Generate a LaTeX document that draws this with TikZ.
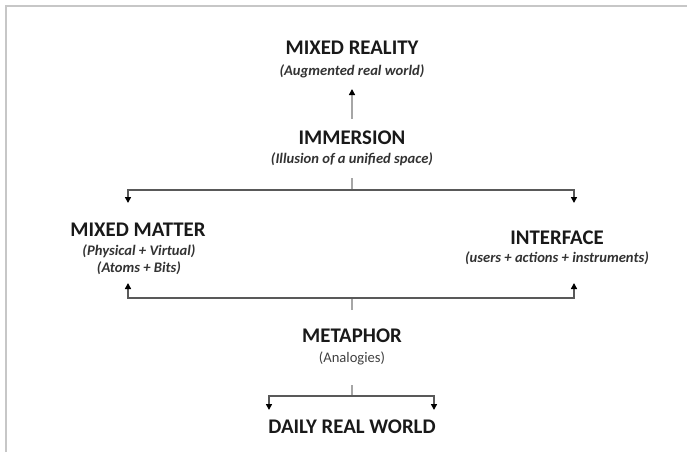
\documentclass[tikz,border=0pt]{standalone}
\usepackage{fontspec}
\setmainfont{Carlito}
\usetikzlibrary{arrows.meta}
\begin{document}
\begin{tikzpicture}[x=0.5pt,y=-0.5pt]
\tikzstyle{head}=[font=\bfseries\fontsize{10.4}{12}\selectfont,text=black!90,inner sep=0pt]
\tikzstyle{sub}=[font=\bfseries\itshape\fontsize{7.3}{9}\selectfont,text=black!80,inner sep=0pt]
\tikzstyle{link}=[draw=black!65,line width=0.75pt]
\tikzstyle{stub}=[draw=black!35,line width=0.75pt]
\tikzstyle{tip}=[-{Triangle[length=3pt,width=3pt,color=black]}]
\useasboundingbox (0,0) rectangle (687,452);
\draw[black!22,line width=1pt] (6,452) -- (6,5.5) -- (687,5.5);

% top
\node[head] (reality) at (352,48) {MIXED REALITY};
\node[sub] (realitysub) at (352,71) {(Augmented real world)};
\node[head] (immersion) at (352,138) {IMMERSION};
\node[sub] (immersionsub) at (352,159) {(Illusion of a unified space)};

% middle
\node[head] (matter) at (138,230) {MIXED MATTER};
\node[sub] (mattersub) at (139,251) {(Physical + Virtual)};
\node[sub] (mattersubb) at (139,268) {(Atoms + Bits)};
\node[head] (interface) at (557,238) {INTERFACE};
\node[sub] (interfacesub) at (557,258) {(users + actions + instruments)};

% bottom
\node[head] (metaphor) at (352,336) {METAPHOR};
\node[font=\fontsize{7.3}{9}\selectfont,text=black!75,inner sep=0pt] (metaphorsub) at (352,358) {(Analogies)};
\node[head] (daily) at (352,427) {DAILY REAL WORLD};

\coordinate (up1) at (352,119);
\coordinate (up2) at (352,89);
\coordinate (fork1) at (352,178);
\coordinate (split1) at (352,190);
\coordinate (matterin) at (128,203);
\coordinate (facein) at (574,203);
\coordinate (fork2) at (352,310);
\coordinate (split2) at (352,298);
\coordinate (matterout) at (128,283);
\coordinate (faceout) at (574,283);
\coordinate (fork3) at (352,385);
\coordinate (split3) at (352,396);
\coordinate (dailyl) at (269,410);
\coordinate (dailyr) at (434,410);

\draw[stub,tip] (up1) -- (up2);
\draw[stub] (fork1) -- (split1);
\draw[link,tip] (split1) -| (matterin);
\draw[link,tip] (split1) -| (facein);
\draw[stub] (fork2) -- (split2);
\draw[link,tip] (split2) -| (matterout);
\draw[link,tip] (split2) -| (faceout);
\draw[stub] (fork3) -- (split3);
\draw[link,tip] (split3) -| (dailyl);
\draw[link,tip] (split3) -| (dailyr);
\end{tikzpicture}
\end{document}
